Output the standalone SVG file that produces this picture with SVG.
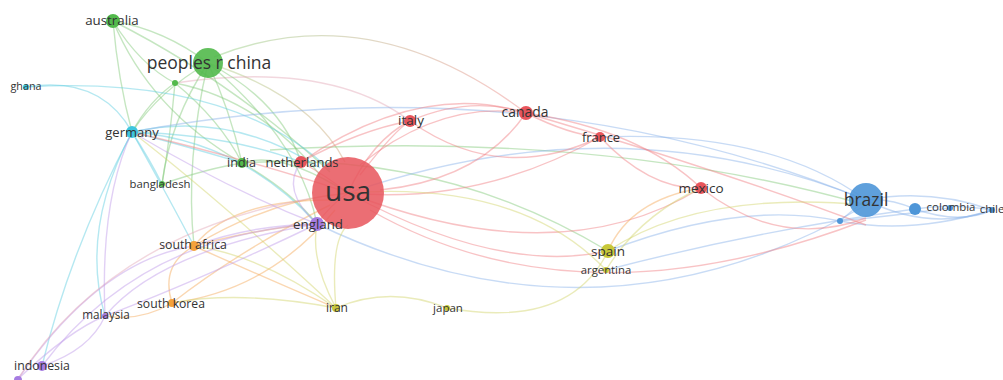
<svg xmlns="http://www.w3.org/2000/svg" width="1003" height="380" viewBox="0 0 1003 380">
<defs>
<linearGradient id="gChinaCanada" gradientUnits="userSpaceOnUse" x1="208" y1="63" x2="526" y2="113"><stop offset="0" stop-color="#8fcf7f"/><stop offset="1" stop-color="#f08a8a"/></linearGradient>
<linearGradient id="gChinaUsa" gradientUnits="userSpaceOnUse" x1="208" y1="63" x2="348" y2="193"><stop offset="0" stop-color="#a9cf86"/><stop offset="1" stop-color="#d9a07d"/></linearGradient>
</defs>
<style>
.e{fill:none;stroke-width:1.4;stroke-opacity:.47}
.r{stroke:#f07f84}.g{stroke:#84c97c}.c{stroke:#62cfe2}.b{stroke:#8ab3ea}.p{stroke:#c09be9}.o{stroke:#f5a95c}.y{stroke:#d3d46c}.pk{stroke:#e3a9b9}
.n{stroke:none}
.red{fill:#e8555c}.grn{fill:#52b94b}.cyn{fill:#3ec6de}.blu{fill:#4e96d8}.pur{fill:#a67ce2}.org{fill:#f5a23a}.yel{fill:#c8c83a}
text{font-family:"Open Sans","Noto Sans","Liberation Sans",sans-serif;fill:#333;text-anchor:middle}
</style>
<rect width="1003" height="380" fill="#fff"/>
<g id="connectors">
<path class="e" d="M214,57 Q370,-5 526,113" stroke="url(#gChinaCanada)" stroke-width="1.6"/>
<path class="e" d="M208,63 Q310,95 345,162" stroke="url(#gChinaUsa)" stroke-width="4" stroke-opacity=".7"/>
<path class="e pk" d="M175,83 Q330,60 410,121"/>
<path class="e g" d="M113,21 Q165,30 208,63"/>
<path class="e g" d="M113,21 Q150,110 242,163"/>
<path class="e g" d="M113,21 Q140,65 175,83"/>
<path class="e g" d="M113,21 Q118,80 132,132"/>
<path class="e g" d="M113,21 Q230,80 330,172"/>
<path class="e g" d="M208,63 Q160,90 132,132"/>
<path class="e g" d="M208,63 Q230,110 242,163"/>
<path class="e g" d="M208,63 Q280,100 301,162"/>
<path class="e g" d="M208,63 Q170,120 162,184"/>
<path class="e g" d="M208,63 Q300,140 317,224"/>
<path class="e g" d="M208,63 Q185,160 194,246"/>
<path class="e g" d="M175,83 Q150,100 132,132"/>
<path class="e g" d="M175,83 Q220,120 242,163"/>
<path class="e g" d="M175,83 Q260,100 320,175"/>
<path class="e g" d="M175,83 Q170,140 162,184"/>
<path class="e g" d="M162,184 Q210,168 242,163"/>
<path class="e g" d="M242,163 Q440,150 608,251"/>
<path class="e g" d="M242,163 Q290,190 317,224"/>
<path class="e g" d="M242,163 Q280,150 348,193"/>
<path class="e g" d="M270,150 Q600,130 866,205"/>
<path class="e c" d="M26,87 Q100,75 132,132"/>
<path class="e c" d="M26,87 Q230,75 330,170"/>
<path class="e c" d="M132,132 Q230,110 320,168"/>
<path class="e c" d="M132,132 Q240,140 317,224"/>
<path class="e c" d="M132,132 Q170,200 194,246"/>
<path class="e c" d="M132,132 Q150,160 162,184"/>
<path class="e c" d="M132,132 Q80,230 105,316"/>
<path class="e c" d="M132,132 Q230,135 301,162"/>
<path class="e c" d="M132,132 Q200,150 242,163"/>
<path class="e c" d="M132,132 Q70,250 42,366"/>
<path class="e b" d="M132,132 Q520,60 866,200"/>
<path class="e b" d="M348,193 Q620,100 866,200"/>
<path class="e b" d="M317,224 Q600,360 866,205"/>
<path class="e b" d="M600,137 Q770,130 866,200"/>
<path class="e b" d="M608,251 Q740,200 840,221"/>
<path class="e b" d="M606,270 Q760,230 915,209"/>
<path class="e b" d="M866,200 Q890,198 915,209"/>
<path class="e b" d="M866,200 Q930,188 992,210"/>
<path class="e b" d="M915,209 Q950,203 992,210"/>
<path class="e b" d="M840,221 Q855,208 866,200"/>
<path class="e b" d="M840,221 Q910,235 992,210"/>
<path class="e b" d="M840,221 Q900,215 950,208"/>
<path class="e b" d="M866,200 Q930,232 992,210"/>
<path class="e b" d="M915,209 Q960,225 992,210"/>
<path class="e r" d="M348,193 Q372,140 410,121"/>
<path class="e r" d="M360,175 Q395,130 410,121"/>
<path class="e r" d="M360,165 Q440,100 526,113"/>
<path class="e r" d="M380,190 Q480,180 526,113"/>
<path class="e r" d="M348,193 Q480,205 600,137"/>
<path class="e r" d="M348,193 Q560,275 701,188"/>
<path class="e r" d="M348,193 Q500,275 608,251"/>
<path class="e r" d="M370,210 Q580,330 866,220"/>
<path class="e r" d="M410,121 Q470,95 526,113"/>
<path class="e r" d="M410,121 Q500,185 600,137"/>
<path class="e r" d="M526,113 Q570,135 600,137"/>
<path class="e r" d="M526,113 Q640,130 701,188"/>
<path class="e r" d="M526,113 Q720,170 866,225"/>
<path class="e r" d="M600,137 Q650,190 701,188"/>
<path class="e r" d="M701,188 Q780,250 866,218"/>
<path class="e r" d="M301,162 Q420,80 526,113"/>
<path class="e r" d="M301,162 Q325,175 348,193"/>
<path class="e r" d="M317,224 Q330,205 348,193"/>
<path class="e r" d="M301,162 Q360,130 410,121"/>
<path class="e r" d="M132,132 Q250,160 340,190"/>
<path class="e o" d="M194,246 Q270,200 348,193"/>
<path class="e o" d="M194,246 Q260,228 317,224"/>
<path class="e o" d="M172,303 Q270,290 335,210" stroke-width="2"/>
<path class="e o" d="M172,303 Q160,265 194,246"/>
<path class="e o" d="M172,303 Q140,322 105,316"/>
<path class="e o" d="M194,246 Q270,280 336,308"/>
<path class="e o" d="M194,246 Q230,200 330,200"/>
<path class="e o" d="M608,251 Q630,200 701,188"/>
<path class="e o" d="M172,303 Q240,250 330,205"/>
<path class="e y" d="M336,308 Q390,285 447,308"/>
<path class="e y" d="M447,308 Q570,330 608,251"/>
<path class="e y" d="M336,308 Q310,260 317,224"/>
<path class="e y" d="M336,308 Q260,255 194,246"/>
<path class="e y" d="M336,308 Q240,290 172,303"/>
<path class="e y" d="M336,308 Q220,200 132,132"/>
<path class="e y" d="M606,270 Q640,215 701,188"/>
<path class="e y" d="M348,193 Q520,180 606,270"/>
<path class="e y" d="M608,251 Q700,190 866,205"/>
<path class="e y" d="M336,308 Q330,240 348,225"/>
<path class="e p" d="M317,224 Q250,225 194,246"/>
<path class="e p" d="M317,224 Q160,250 105,316"/>
<path class="e p" d="M317,224 Q140,235 42,366"/>
<path class="e p" d="M42,366 Q90,350 105,316"/>
<path class="e p" d="M18,379 Q70,330 105,316"/>
<path class="e p" d="M18,379 Q100,260 194,246"/>
<path class="e pk" d="M18,379 Q120,220 348,193"/>
<path class="e p" d="M105,316 Q200,280 317,224"/>
<path class="e p" d="M105,316 Q100,200 132,132"/>
<path class="e p" d="M317,224 Q280,190 301,162"/>
<path class="e p" d="M317,224 Q230,190 132,132"/>
</g>
<g id="node-usa"><circle class="n red" cx="348" cy="193" r="36" fill-opacity=".85"/><text x="348" y="201" font-size="28">usa</text></g>
<g id="node-peoples-r-china"><circle class="n grn" cx="208" cy="63" r="15" fill-opacity=".9"/><text x="209" y="69" font-size="17.5">peoples r china</text></g>
<g id="node-brazil"><circle class="n blu" cx="866" cy="200" r="17" fill-opacity=".9"/><text x="866" y="206" font-size="17.5">brazil</text></g>
<g id="node-australia"><circle class="n grn" cx="113" cy="21" r="7"/><text x="112" y="25" font-size="13.3">australia</text></g>
<g id="node-green-small"><circle class="n grn" cx="175" cy="83" r="3"/></g>
<g id="node-ghana"><circle class="n cyn" cx="26" cy="87" r="3"/><text x="26" y="90" font-size="10.8">ghana</text></g>
<g id="node-germany"><circle class="n cyn" cx="132" cy="132" r="6"/><text x="132" y="137" font-size="13">germany</text></g>
<g id="node-india"><circle class="n grn" cx="242" cy="163" r="5"/><text x="241.5" y="167" font-size="12.6">india</text></g>
<g id="node-netherlands"><circle class="n red" cx="301" cy="162" r="6"/><text x="302" y="167" font-size="13">netherlands</text></g>
<g id="node-bangladesh"><circle class="n grn" cx="162" cy="184" r="3"/><text x="160" y="188" font-size="11.3">bangladesh</text></g>
<g id="node-england"><circle class="n pur" cx="317" cy="224" r="7"/><text x="318" y="229" font-size="13.3">england</text></g>
<g id="node-south-africa"><circle class="n org" cx="194" cy="246" r="5"/><text x="193" y="249" font-size="12.3">south africa</text></g>
<g id="node-south-korea"><circle class="n org" cx="172" cy="303" r="4"/><text x="171" y="308" font-size="12.2">south korea</text></g>
<g id="node-malaysia"><circle class="n pur" cx="105" cy="316" r="3"/><text x="106" y="319" font-size="11.7">malaysia</text></g>
<g id="node-indonesia"><circle class="n pur" cx="42" cy="366" r="5"/><text x="42" y="370" font-size="12.3">indonesia</text></g>
<g id="node-purple-small"><circle class="n pur" cx="18" cy="380" r="4"/></g>
<g id="node-iran"><circle class="n yel" cx="336" cy="308" r="4"/><text x="337" y="312" font-size="12">iran</text></g>
<g id="node-japan"><circle class="n yel" cx="447" cy="308" r="3"/><text x="448" y="312" font-size="11.5">japan</text></g>
<g id="node-italy"><circle class="n red" cx="410" cy="121" r="6"/><text x="411" y="125" font-size="13.5">italy</text></g>
<g id="node-canada"><circle class="n red" cx="526" cy="113" r="7"/><text x="525" y="117" font-size="13.9">canada</text></g>
<g id="node-france"><circle class="n red" cx="600" cy="137" r="5"/><text x="601" y="142" font-size="12.9">france</text></g>
<g id="node-mexico"><circle class="n red" cx="701" cy="188" r="6"/><text x="701" y="193" font-size="13.5">mexico</text></g>
<g id="node-spain"><circle class="n yel" cx="608" cy="251" r="7"/><text x="608" y="256" font-size="13.5">spain</text></g>
<g id="node-argentina"><circle class="n yel" cx="606" cy="270" r="3"/><text x="606" y="274" font-size="11.3">argentina</text></g>
<g id="node-blue-small"><circle class="n blu" cx="840" cy="221" r="3"/></g>
<g id="node-blue-unlabeled"><circle class="n blu" cx="915" cy="209" r="6"/></g>
<g id="node-colombia"><circle class="n blu" cx="950" cy="208" r="3"/><text x="951" y="211" font-size="11.4">colombia</text></g>
<g id="node-chile"><circle class="n blu" cx="992" cy="210" r="3"/><text x="992" y="213" font-size="11.4">chile</text></g>
</svg>
